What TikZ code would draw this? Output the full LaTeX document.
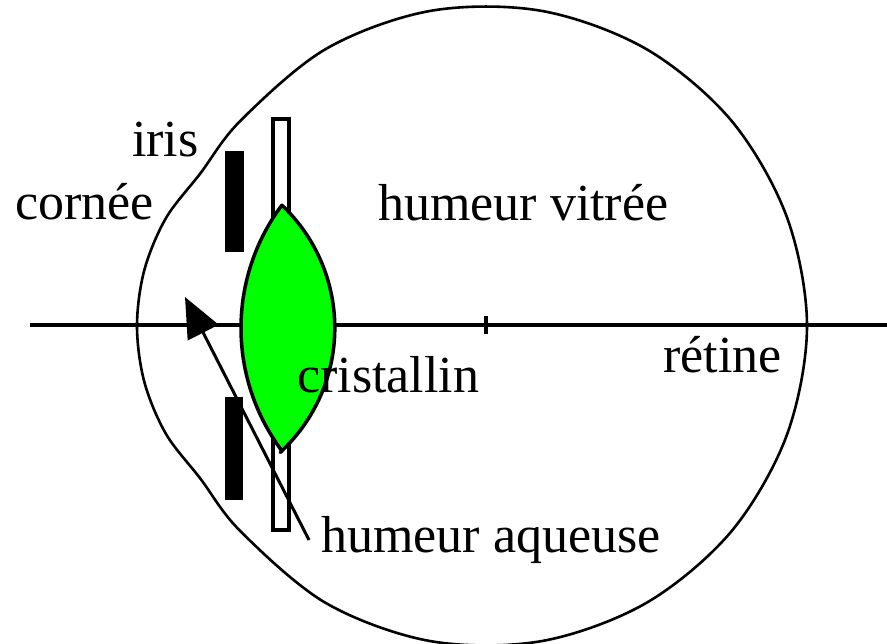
\documentclass[tikz,border=0pt]{standalone}
\usepackage{fontspec}
\setmainfont{Liberation Serif}
\usetikzlibrary{arrows.meta}
\definecolor{lensgreen}{RGB}{0,255,0}
\begin{document}
\begin{tikzpicture}[x=1pt,y=-1pt,
  outline/.style={line width=2.6pt, line join=round},
  axisline/.style={line width=3.5pt},
  tickmark/.style={line width=4pt},
  tag/.style={font=\fontsize{52}{60}\selectfont, inner sep=0pt, anchor=base west},
  irisbar/.style={fill=black},
  pupilbox/.style={draw=black, fill=white, line width=4pt},
  lens/.style={fill=lensgreen, draw=black, line width=3.5pt, line join=round},
  pointer/.style={line width=3pt, -{Triangle[length=40pt,width=34pt]}}
]
\useasboundingbox (0,0) rectangle (887,644);

% eyeball: sclera circle (centre 486,326) blended into the corneal bulge (centre 352.6,326)
\draw[outline] plot[smooth cycle, tension=0.55] coordinates {
  (137,326) (144.3,270.2) (165.9,218.2) (200.2,173.6)
  (240.9,120.3) (326,48.9) (430.4,10.9) (541.6,10.9) (646,48.9)
  (731.1,120.3) (786.7,216.6) (807,326) (786.7,435.4) (731.1,531.7)
  (646,603.1) (541.6,641.1) (430.4,641.1) (326,603.1) (240.9,531.7)
  (200.2,478.4) (165.9,433.8) (144.3,381.8)
};

% optical axis with the centre mark
\coordinate (axL) at (30,325);
\coordinate (axR) at (887,325);
\draw[axisline] (axL) -- (axR);
\coordinate (tickT) at (486,316);
\coordinate (tickB) at (486,334);
\draw[tickmark] (tickT) -- (tickB);

% iris
\fill[irisbar] (225,151) rectangle (244,252);
\fill[irisbar] (225,397) rectangle (243,500);

% pupil plane
\draw[pupilbox] (273,119) rectangle (289,530);

% crystalline lens
\draw[lens]
  plot[domain=-46.6:47.4, samples=60] ({165.8+169*cos(\x)},{328+169*sin(\x)})
  -- plot[domain=143.1:216.8, samples=60] ({446+205*cos(\x)},{328+205*sin(\x)})
  -- cycle;

% labels
\node[tag] (iris) at (132,157) {iris};
\node[tag] (cornee) at (15,220) {cornée};
\node[tag] (vitree) at (378,221) {humeur vitrée};
\node[tag] (cristallin) at (297,393) {cristallin};
\node[tag] (retine) at (663,373) {rétine};
\node[tag] (aqueuse) at (321,552) {humeur aqueuse};

% pointer from the aqueous humour label
\coordinate (aqEnd) at (309,540);
\coordinate (aqTip) at (185,297);
\draw[pointer] (aqEnd) -- (aqTip);
\end{tikzpicture}
\end{document}
